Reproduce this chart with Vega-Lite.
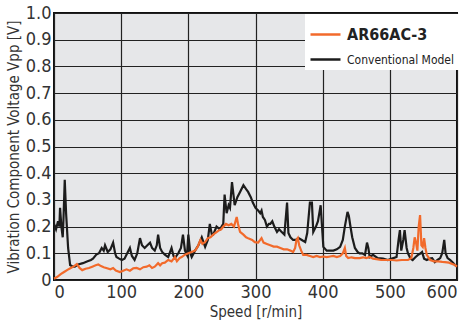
{
  "$schema": "https://vega.github.io/schema/vega-lite/v6.json",
  "width": 403,
  "height": 267,
  "autosize": {"type": "none"},
  "padding": {"left": 54, "top": 13, "right": 13, "bottom": 42},
  "background": "white",
  "config": {
    "font": "DejaVu Sans Condensed, sans-serif",
    "view": {"fill": "#e6e7e9", "stroke": "#111", "strokeWidth": 2}
  },
  "datasets": {
    "conv": [
      {"x":0,"y":0.21},{"x":3,"y":0.19},{"x":6,"y":0.22},{"x":8,"y":0.2},{"x":9,"y":0.27},{"x":11,"y":0.2},{"x":13,"y":0.16},{"x":14,"y":0.22},{"x":16,"y":0.375},{"x":18,"y":0.25},{"x":21,"y":0.12},{"x":24,"y":0.056},{"x":28,"y":0.05},{"x":31,"y":0.05},{"x":36,"y":0.058},{"x":43,"y":0.063},{"x":50,"y":0.07},{"x":55,"y":0.075},{"x":58,"y":0.08},{"x":63,"y":0.095},{"x":67,"y":0.1},{"x":71,"y":0.12},{"x":74,"y":0.11},{"x":76,"y":0.13},{"x":80,"y":0.105},{"x":84,"y":0.115},{"x":88,"y":0.14},{"x":91,"y":0.1},{"x":93,"y":0.086},{"x":97,"y":0.08},{"x":101,"y":0.075},{"x":105,"y":0.08},{"x":109,"y":0.1},{"x":113,"y":0.12},{"x":116,"y":0.09},{"x":120,"y":0.075},{"x":124,"y":0.1},{"x":128,"y":0.157},{"x":131,"y":0.13},{"x":135,"y":0.12},{"x":139,"y":0.13},{"x":143,"y":0.14},{"x":146,"y":0.12},{"x":150,"y":0.11},{"x":153,"y":0.13},{"x":155,"y":0.17},{"x":158,"y":0.12},{"x":161,"y":0.105},{"x":165,"y":0.095},{"x":170,"y":0.086},{"x":175,"y":0.12},{"x":178,"y":0.09},{"x":180,"y":0.082},{"x":185,"y":0.1},{"x":189,"y":0.12},{"x":192,"y":0.17},{"x":195,"y":0.11},{"x":198,"y":0.094},{"x":200,"y":0.17},{"x":203,"y":0.1},{"x":205,"y":0.086},{"x":210,"y":0.11},{"x":215,"y":0.13},{"x":220,"y":0.16},{"x":225,"y":0.124},{"x":229,"y":0.15},{"x":232,"y":0.21},{"x":235,"y":0.17},{"x":237,"y":0.17},{"x":242,"y":0.2},{"x":247,"y":0.19},{"x":252,"y":0.21},{"x":254,"y":0.32},{"x":257,"y":0.25},{"x":260,"y":0.28},{"x":262,"y":0.27},{"x":265,"y":0.367},{"x":269,"y":0.28},{"x":273,"y":0.31},{"x":277,"y":0.33},{"x":282,"y":0.355},{"x":286,"y":0.34},{"x":289,"y":0.33},{"x":293,"y":0.31},{"x":296,"y":0.29},{"x":300,"y":0.27},{"x":304,"y":0.26},{"x":307,"y":0.25},{"x":309,"y":0.26},{"x":311,"y":0.236},{"x":314,"y":0.225},{"x":317,"y":0.2},{"x":320,"y":0.21},{"x":322,"y":0.21},{"x":325,"y":0.22},{"x":328,"y":0.2},{"x":332,"y":0.18},{"x":335,"y":0.19},{"x":339,"y":0.18},{"x":343,"y":0.17},{"x":347,"y":0.29},{"x":349,"y":0.176},{"x":352,"y":0.16},{"x":356,"y":0.15},{"x":360,"y":0.15},{"x":364,"y":0.157},{"x":369,"y":0.15},{"x":374,"y":0.142},{"x":377,"y":0.176},{"x":381,"y":0.29},{"x":384,"y":0.29},{"x":386,"y":0.18},{"x":390,"y":0.2},{"x":393,"y":0.22},{"x":397,"y":0.28},{"x":401,"y":0.124},{"x":406,"y":0.11},{"x":411,"y":0.11},{"x":416,"y":0.11},{"x":421,"y":0.115},{"x":426,"y":0.124},{"x":430,"y":0.15},{"x":433,"y":0.2},{"x":437,"y":0.255},{"x":439,"y":0.24},{"x":441,"y":0.206},{"x":444,"y":0.16},{"x":448,"y":0.12},{"x":452,"y":0.105},{"x":455,"y":0.1},{"x":459,"y":0.1},{"x":463,"y":0.094},{"x":466,"y":0.14},{"x":468,"y":0.12},{"x":470,"y":0.086},{"x":475,"y":0.094},{"x":482,"y":0.082},{"x":490,"y":0.08},{"x":497,"y":0.075},{"x":503,"y":0.08},{"x":510,"y":0.086},{"x":513,"y":0.15},{"x":515,"y":0.187},{"x":517,"y":0.11},{"x":520,"y":0.15},{"x":522,"y":0.187},{"x":525,"y":0.12},{"x":527,"y":0.1},{"x":531,"y":0.08},{"x":534,"y":0.075},{"x":538,"y":0.085},{"x":542,"y":0.094},{"x":546,"y":0.1},{"x":548,"y":0.105},{"x":551,"y":0.08},{"x":555,"y":0.075},{"x":559,"y":0.08},{"x":563,"y":0.082},{"x":567,"y":0.067},{"x":571,"y":0.075},{"x":575,"y":0.082},{"x":578,"y":0.1},{"x":581,"y":0.15},{"x":583,"y":0.1},{"x":586,"y":0.082},{"x":590,"y":0.075},{"x":594,"y":0.065},{"x":597,"y":0.056},{"x":600,"y":0.05}
    ],
    "ar": [
      {"x":0,"y":0.005},{"x":5,"y":0.012},{"x":10,"y":0.022},{"x":15,"y":0.03},{"x":20,"y":0.038},{"x":25,"y":0.045},{"x":30,"y":0.052},{"x":34,"y":0.06},{"x":38,"y":0.045},{"x":42,"y":0.037},{"x":47,"y":0.042},{"x":52,"y":0.045},{"x":57,"y":0.05},{"x":62,"y":0.055},{"x":66,"y":0.058},{"x":70,"y":0.052},{"x":74,"y":0.048},{"x":79,"y":0.044},{"x":84,"y":0.04},{"x":88,"y":0.045},{"x":92,"y":0.035},{"x":98,"y":0.03},{"x":103,"y":0.035},{"x":108,"y":0.04},{"x":113,"y":0.035},{"x":118,"y":0.044},{"x":123,"y":0.045},{"x":128,"y":0.04},{"x":133,"y":0.048},{"x":138,"y":0.05},{"x":142,"y":0.055},{"x":146,"y":0.045},{"x":150,"y":0.05},{"x":155,"y":0.063},{"x":158,"y":0.055},{"x":161,"y":0.063},{"x":165,"y":0.065},{"x":170,"y":0.075},{"x":175,"y":0.07},{"x":180,"y":0.086},{"x":183,"y":0.07},{"x":187,"y":0.082},{"x":190,"y":0.086},{"x":195,"y":0.095},{"x":200,"y":0.1},{"x":205,"y":0.105},{"x":210,"y":0.11},{"x":214,"y":0.125},{"x":218,"y":0.15},{"x":221,"y":0.135},{"x":225,"y":0.142},{"x":229,"y":0.157},{"x":233,"y":0.16},{"x":237,"y":0.17},{"x":240,"y":0.176},{"x":245,"y":0.185},{"x":249,"y":0.19},{"x":252,"y":0.2},{"x":256,"y":0.21},{"x":260,"y":0.205},{"x":264,"y":0.21},{"x":268,"y":0.2},{"x":272,"y":0.236},{"x":274,"y":0.21},{"x":277,"y":0.18},{"x":282,"y":0.17},{"x":286,"y":0.16},{"x":290,"y":0.155},{"x":295,"y":0.15},{"x":299,"y":0.142},{"x":304,"y":0.14},{"x":307,"y":0.15},{"x":309,"y":0.157},{"x":312,"y":0.14},{"x":317,"y":0.135},{"x":322,"y":0.13},{"x":327,"y":0.125},{"x":332,"y":0.125},{"x":337,"y":0.12},{"x":342,"y":0.115},{"x":347,"y":0.115},{"x":352,"y":0.11},{"x":356,"y":0.105},{"x":359,"y":0.12},{"x":361,"y":0.15},{"x":363,"y":0.157},{"x":365,"y":0.13},{"x":368,"y":0.11},{"x":371,"y":0.094},{"x":376,"y":0.094},{"x":381,"y":0.09},{"x":386,"y":0.086},{"x":391,"y":0.09},{"x":396,"y":0.086},{"x":401,"y":0.088},{"x":406,"y":0.086},{"x":411,"y":0.088},{"x":416,"y":0.09},{"x":421,"y":0.086},{"x":426,"y":0.09},{"x":430,"y":0.1},{"x":433,"y":0.12},{"x":435,"y":0.09},{"x":438,"y":0.082},{"x":443,"y":0.085},{"x":448,"y":0.082},{"x":455,"y":0.082},{"x":460,"y":0.085},{"x":465,"y":0.082},{"x":470,"y":0.086},{"x":475,"y":0.08},{"x":480,"y":0.078},{"x":487,"y":0.075},{"x":495,"y":0.075},{"x":503,"y":0.075},{"x":510,"y":0.073},{"x":518,"y":0.075},{"x":527,"y":0.075},{"x":532,"y":0.082},{"x":535,"y":0.12},{"x":537,"y":0.16},{"x":539,"y":0.14},{"x":541,"y":0.11},{"x":543,"y":0.2},{"x":545,"y":0.243},{"x":547,"y":0.13},{"x":549,"y":0.124},{"x":551,"y":0.157},{"x":553,"y":0.12},{"x":555,"y":0.094},{"x":560,"y":0.075},{"x":566,"y":0.07},{"x":572,"y":0.07},{"x":578,"y":0.068},{"x":582,"y":0.067},{"x":588,"y":0.065},{"x":593,"y":0.06},{"x":597,"y":0.056},{"x":600,"y":0.05}
    ]
  },
  "encoding": {
    "x": {
      "field": "x", "type": "quantitative",
      "scale": {"domain": [0, 600], "nice": false, "zero": false},
      "axis": {
        "values": [0, 100, 200, 300, 400, 500, 600],
        "title": "Speed [r/min]",
        "titleFontSize": 15, "titleFontWeight": "normal", "titleColor": "#333", "titlePadding": 3,
        "labelFontSize": 18, "labelColor": "#333", "labelPadding": 3,
        "ticks": false, "domain": false,
        "grid": true, "gridColor": "#222", "gridWidth": 1.2, "gridOpacity": 1
      }
    },
    "y": {
      "field": "y", "type": "quantitative",
      "scale": {"domain": [0, 1], "nice": false},
      "axis": {
        "values": [0, 0.1, 0.2, 0.3, 0.4, 0.5, 0.6, 0.7, 0.8, 0.9, 1.0],
        "labelExpr": "datum.value == 0 ? '0' : format(datum.value, '.1f')",
        "title": "Vibration Component Voltage Vpp [V]",
        "titleFontSize": 15, "titleFontWeight": "normal", "titleColor": "#333", "titlePadding": 4,
        "labelFontSize": 18, "labelColor": "#333", "labelPadding": 3,
        "ticks": false, "domain": false,
        "grid": true, "gridColor": "#222", "gridWidth": 1.2, "gridOpacity": 1
      }
    },
    "color": {
      "field": "series", "type": "nominal",
      "scale": {"domain": ["AR66AC-3", "Conventional Model"], "range": ["#f26a2b", "#1c1c1c"]},
      "legend": {
        "title": null,
        "orient": "none",
        "legendX": 251,
        "legendY": 1,
        "fillColor": "white",
        "padding": 4,
        "symbolType": "stroke",
        "symbolSize": 900,
        "symbolStrokeWidth": 2.5,
        "labelFontSize": 12,
        "labelColor": "#222",
        "labelOffset": 5,
        "rowPadding": -11,
        "encode": {
          "labels": {
            "update": {
              "fontWeight": {"signal": "datum.value === 'AR66AC-3' ? 'bold' : 'normal'"},
              "fontSize": {"signal": "datum.value === 'AR66AC-3' ? 16 : 12"}
            }
          }
        }
      }
    }
  },
  "layer": [
    {
      "data": {"name": "conv"},
      "transform": [{"calculate": "'Conventional Model'", "as": "series"}],
      "mark": {"type": "line", "strokeWidth": 2.2, "interpolate": "linear"}
    },
    {
      "data": {"name": "ar"},
      "transform": [{"calculate": "'AR66AC-3'", "as": "series"}],
      "mark": {"type": "line", "strokeWidth": 2.2, "interpolate": "linear"}
    }
  ]
}
